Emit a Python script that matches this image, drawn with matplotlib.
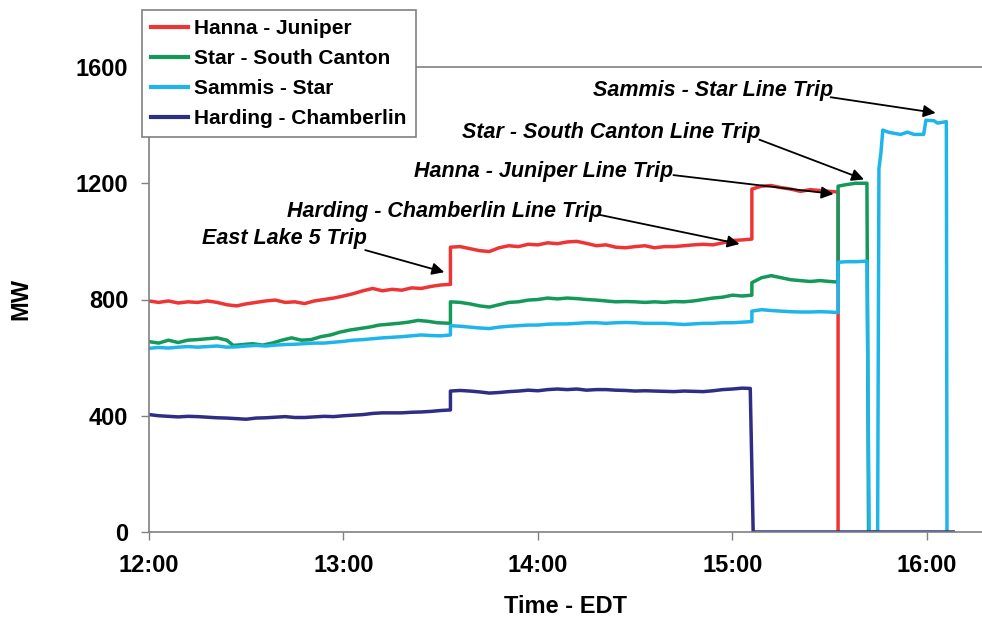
import matplotlib
matplotlib.use("Agg")
import matplotlib.pyplot as plt
import numpy as np

plt.rcParams['font.family'] = ['Liberation Sans', 'DejaVu Sans']
plt.rcParams['font.weight'] = 'bold'

# minutes after 12:00 and MW
hj_t = [0, 3, 6, 9, 12, 15, 18, 21, 24, 27, 30, 33, 36, 39, 42, 45, 48, 51, 54, 57,
        60, 63, 66, 69, 72, 75, 78, 81, 84, 87, 90, 93, 93, 96, 99, 102, 105, 108, 111, 114,
        117, 120, 123, 126, 129, 132, 135, 138, 141, 144, 147, 150, 153, 156, 159, 162, 165, 168, 171, 174,
        177, 180, 183, 186, 186, 189, 192, 195, 198, 201, 204, 207, 210, 212.6, 212.6]
hj_mw = [795, 790, 795, 788, 792, 790, 795, 790, 782, 778, 785, 790, 795, 798, 790, 792, 786, 795, 800, 805,
         812, 820, 830, 838, 830, 835, 832, 840, 838, 845, 850, 852, 980, 982, 975, 968, 965, 978, 985, 982,
         990, 988, 995, 992, 998, 1000, 993, 985, 988, 980, 978, 982, 985, 978, 982, 982, 985, 988, 990, 988,
         995, 1003, 1005, 1008, 1180, 1190, 1192, 1185, 1180, 1172, 1178, 1175, 1172, 1170, 0]

ssc_t = [0, 3, 6, 9, 12, 15, 18, 21, 24, 26, 29, 32, 35, 38, 41, 44, 47, 50, 53, 56,
         59, 62, 65, 68, 71, 74, 77, 80, 83, 86, 89, 93, 93, 96, 99, 102, 105, 108, 111, 114,
         117, 120, 123, 126, 129, 132, 135, 138, 141, 144, 147, 150, 153, 156, 159, 162, 165, 168, 171, 174,
         177, 180, 183, 186, 186, 189, 192, 195, 198, 201, 204, 207, 210, 212.6, 212.6, 215, 218, 221.5, 222]
ssc_mw = [655, 650, 660, 652, 660, 662, 665, 668, 660, 642, 645, 648, 643, 650, 660, 668, 660, 662, 672, 678,
          688, 695, 700, 705, 712, 715, 718, 722, 728, 725, 720, 718, 792, 790, 785, 778, 774, 782, 790, 792,
          798, 800, 805, 802, 805, 803, 800, 798, 795, 792, 793, 792, 790, 792, 790, 793, 792, 795, 800, 805,
          808, 815, 812, 815, 858, 875, 882, 875, 868, 865, 862, 865, 862, 860, 1190, 1195, 1200, 1200, 0]

ss_t = [0, 3, 6, 9, 12, 15, 18, 21, 24, 27, 30, 33, 36, 39, 42, 45, 48, 51, 54, 57,
        60, 63, 66, 69, 72, 75, 78, 81, 84, 87, 90, 93, 93, 96, 99, 102, 105, 108, 111, 114,
        117, 120, 123, 126, 129, 132, 135, 138, 141, 144, 147, 150, 153, 156, 159, 162, 165, 168, 171, 174,
        177, 180, 183, 186, 186, 189, 192, 195, 198, 201, 204, 207, 210, 212.6, 212.6, 215, 218, 221.5, 222.2,
        224.8, 225.2, 225.8, 226.4, 228.3, 231.9, 234, 236, 239, 239.7, 242.2, 243.3, 246, 246.2]
ss_mw = [632, 635, 633, 636, 638, 636, 638, 640, 636, 637, 640, 642, 640, 643, 645, 646, 648, 650, 650, 653,
         656, 660, 662, 665, 668, 670, 672, 675, 678, 676, 675, 678, 710, 708, 705, 702, 700, 705, 708, 710,
         712, 712, 715, 716, 716, 718, 720, 720, 718, 720, 721, 720, 718, 718, 718, 716, 714, 716, 718, 718,
         720, 720, 722, 724, 760, 765, 762, 760, 758, 757, 757, 758, 757, 755, 928, 930, 930, 932, 0,
         0, 1250, 1303, 1383, 1375, 1368, 1376, 1368, 1368, 1417, 1415, 1407, 1412, 0]

hc_t = [0, 3, 6, 9, 12, 15, 18, 21, 24, 27, 30, 33, 36, 39, 42, 45, 48, 51, 54, 57,
        60, 63, 66, 69, 72, 75, 78, 81, 84, 87, 90, 93, 93, 96, 99, 102, 105, 108, 111, 114,
        117, 120, 123, 126, 129, 132, 135, 138, 141, 144, 147, 150, 153, 156, 159, 162, 165, 168, 171, 174,
        177, 180, 183, 185.5, 186.4, 248.1]
hc_mw = [404, 400, 398, 396, 398, 397, 395, 393, 392, 390, 388, 392, 393, 395, 397, 394, 394, 396, 398, 397,
         400, 402, 404, 408, 410, 410, 410, 412, 413, 415, 418, 420, 485, 487, 485, 482, 478, 480, 483, 485,
         488, 486, 490, 492, 490, 492, 488, 490, 490, 488, 487, 485, 486, 485, 484, 483, 485, 484, 483, 486,
         490, 492, 495, 494, 0, 0]

names = ["Hanna - Juniper", "Star - South Canton", "Sammis - Star", "Harding - Chamberlin"]
colors = ["#EE3535", "#15995A", "#1EB6EA", "#2E2E85"]
series = [(hj_t, hj_mw), (ssc_t, ssc_mw), (ss_t, ss_mw), (hc_t, hc_mw)]

tick_hours = [12, 13, 14, 15, 16]
tick_labels = ["12:00", "13:00", "14:00", "15:00", "16:00"]
y_ticks = [0, 400, 800, 1200, 1600]

# label text, (minute, MW) of text left/center, arrow start, arrow tip
notes = [
    ("East Lake 5 Trip", (16.3, 1011), (66.7, 970), (91.1, 894)),
    ("Harding - Chamberlin Line Trip", (42.6, 1104), (138.7, 1092), (182.2, 991)),
    ("Hanna - Juniper Line Trip", (81.8, 1239), (161.8, 1228), (211.2, 1163)),
    ("Star - South Canton Line Trip", (96.7, 1374), (188.3, 1350), (220.6, 1213)),
    ("Sammis - Star Line Trip", (137.0, 1518), (210.3, 1496), (242.7, 1442)),
]

def hrs(m):
    return 12 + np.asarray(m, dtype=float) / 60.0

fig = plt.figure(figsize=(9.82, 6.22), dpi=100)
ax = fig.add_axes([149 / 982, 1 - 532 / 622, 833 / 982, 465 / 622])

for (t, mw), name, c in zip(series, names, colors):
    ax.plot(hrs(t), mw, color=c, lw=2.5, label=name, solid_joinstyle='round')

for text, pos, start, tip in notes:
    ax.text(hrs(pos[0]), pos[1], text, fontsize=15.5, fontweight='bold', fontstyle='italic',
            ha='left', va='center')
    ax.annotate('', xy=(hrs(tip[0]), tip[1]), xytext=(hrs(start[0]), start[1]),
                arrowprops=dict(arrowstyle='-|>', color='black', lw=1.3, mutation_scale=18,
                                shrinkA=0, shrinkB=0))

ax.set_xlim(12, hrs(257))
ax.set_ylim(0, 1600)
ax.set_xticks(tick_hours)
ax.set_xticklabels(tick_labels)
ax.set_yticks(y_ticks)
ax.tick_params(axis='both', labelsize=17, colors='#808080', labelcolor='black', length=6, width=1)
ax.tick_params(axis='y', pad=9)
ax.tick_params(axis='x', pad=10)
for lab in ax.get_xticklabels() + ax.get_yticklabels():
    lab.set_fontweight('bold')

for side in ['left', 'bottom', 'top']:
    ax.spines[side].set_color('#808080')
    ax.spines[side].set_linewidth(1.2)
ax.spines['right'].set_visible(False)

ax.set_xlabel("Time - EDT", fontsize=17, fontweight='bold')
ax.set_ylabel("MW", fontsize=17, fontweight='bold')
ax.xaxis.set_label_coords(0.5, -0.135)
ax.yaxis.set_label_coords(-0.14, 0.5)

leg = ax.legend(loc='upper left', bbox_to_anchor=(142 / 982, 1 - 10 / 622),
                bbox_transform=fig.transFigure, borderaxespad=0, fancybox=False,
                frameon=True, framealpha=1, edgecolor='#808080', fontsize=15,
                handlelength=1.75, handletextpad=0.3, labelspacing=0.52, borderpad=0.45)
leg.get_frame().set_linewidth(1.2)
for t in leg.get_texts():
    t.set_fontweight('bold')
for h in leg.get_lines():
    h.set_linewidth(3)

fig.savefig("out.png", dpi=100)
